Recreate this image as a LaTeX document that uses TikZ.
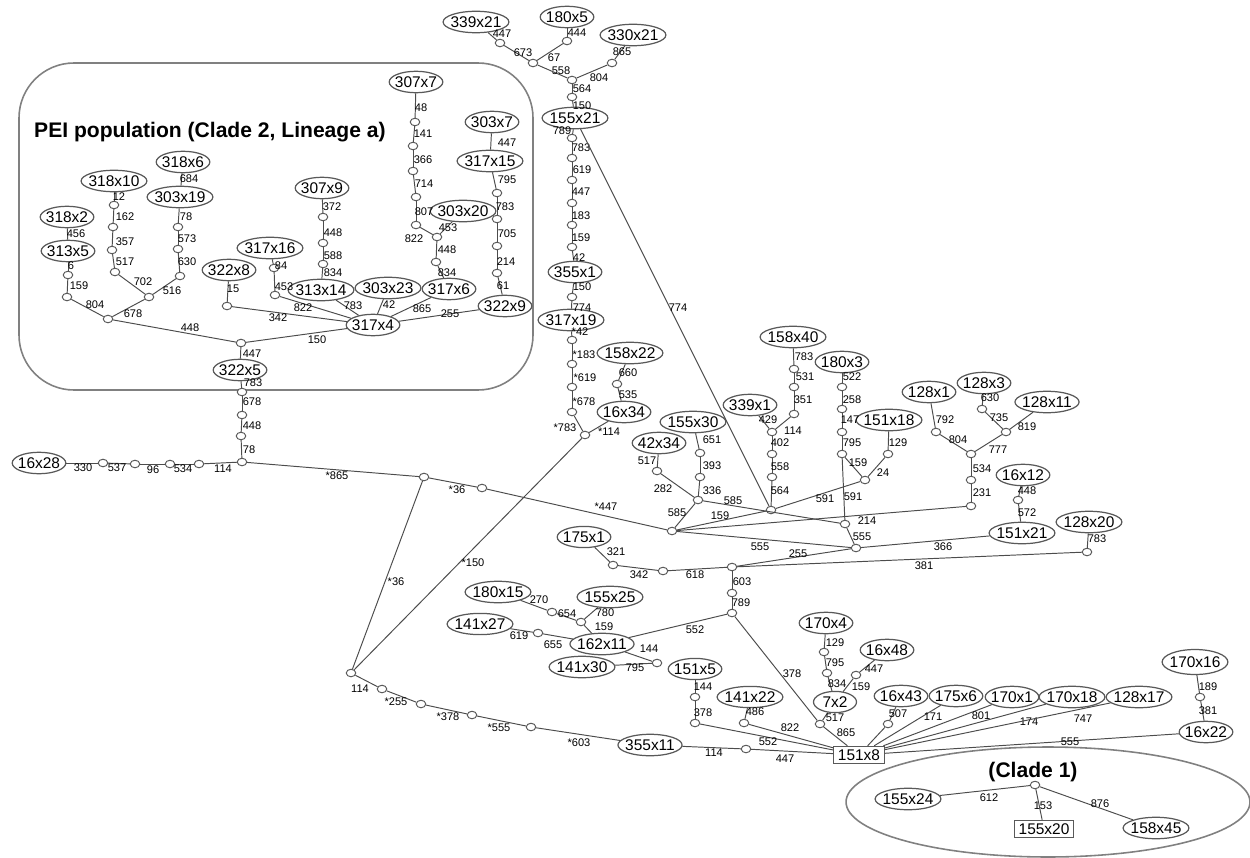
\documentclass[tikz,border=0pt]{standalone}
\usepackage{fontspec}
\setmainfont{Liberation Sans}
\usetikzlibrary{positioning, shapes.geometric}

\begin{document}
\begin{tikzpicture}[x=0.02cm, y=-0.02cm,
    hap/.style={ellipse, draw=black!65, line width=0.7pt, inner xsep=-1.2pt, inner ysep=1.2pt, minimum width=0.86cm, font=\fontsize{8.8}{9}\selectfont},
    hapbox/.style={rectangle, draw=black!65, line width=0.7pt, inner xsep=2.4pt, inner ysep=1.8pt, font=\fontsize{8.8}{9}\selectfont},
    mv/.style={ellipse, draw=black!65, line width=0.55pt, fill=white, minimum width=0.19cm, minimum height=0.15cm, inner sep=0pt},
    lnk/.style={draw=black!70, line width=0.55pt},
    lbl/.style={inner sep=0pt, font=\fontsize{6.3}{7}\selectfont}]

      \useasboundingbox (0,0) rectangle (1250,858);

      \draw[black!50, line width=0.9pt, rounded corners=1.1cm] (19,63) rectangle (533,390);
      \draw[black!50, line width=0.9pt] (1048,802) ellipse [x radius=4.04cm, y radius=1.1cm];

      \node[anchor=west, font=\fontsize{12}{14}\selectfont\bfseries] (pei) at (28,132) {PEI population (Clade 2, Lineage a)};
      \node[font=\fontsize{12}{14}\selectfont\bfseries] (clade1) at (1033,772) {(Clade 1)};

      \node[hap] (h339x21) at (476,22) {339x21};
      \node[hap] (h180x5) at (567,17) {180x5};
      \node[hap] (h330x21) at (633,35) {330x21};
      \node[hap] (h155x21) at (575,118) {155x21};
      \node[hap] (h355x1) at (575,272) {355x1};
      \node[hap] (h317x19) at (571,320) {317x19};
      \node[hap] (h158x22) at (630,353) {158x22};
      \node[hap] (h16x34) at (624,412) {16x34};

      \node[hap] (h307x7) at (416,82) {307x7};
      \node[hap] (h303x7) at (492,122) {303x7};
      \node[hap] (h317x15) at (490,161) {317x15};
      \node[hap] (h303x20) at (463,211) {303x20};
      \node[hap] (h307x9) at (322,188) {307x9};
      \node[hap] (h318x6) at (183,162) {318x6};
      \node[hap] (h303x19) at (180,197) {303x19};
      \node[hap] (h318x10) at (114,181) {318x10};
      \node[hap] (h318x2) at (67,217) {318x2};
      \node[hap] (h313x5) at (68,251) {313x5};
      \node[hap] (h317x16) at (270,248) {317x16};
      \node[hap] (h322x8) at (229,270) {322x8};
      \node[hap] (h313x14) at (321,290) {313x14};
      \node[hap] (h303x23) at (388,288) {303x23};
      \node[hap] (h317x6) at (449,289) {317x6};
      \node[hap] (h322x9) at (505,306) {322x9};
      \node[hap] (h317x4) at (373,325) {317x4};
      \node[hap] (h322x5) at (240,370) {322x5};

      \node[hap] (h16x28) at (39,463) {16x28};
      \node[hap] (h158x40) at (793,337) {158x40};
      \node[hap] (h339x1) at (750,405) {339x1};
      \node[hap] (h180x3) at (842,362) {180x3};
      \node[hap] (h151x18) at (889,420) {151x18};
      \node[hap] (h155x30) at (693,422) {155x30};
      \node[hap] (h42x34) at (659,443) {42x34};
      \node[hap] (h128x1) at (929,392) {128x1};
      \node[hap] (h128x3) at (984,383) {128x3};
      \node[hap] (h128x11) at (1047,402) {128x11};
      \node[hap] (h16x12) at (1023,475) {16x12};
      \node[hap] (h151x21) at (1022,533) {151x21};
      \node[hap] (h128x20) at (1089,522) {128x20};
      \node[hap] (h175x1) at (584,537) {175x1};

      \node[hap] (h180x15) at (498,592) {180x15};
      \node[hap] (h155x25) at (610,597) {155x25};
      \node[hap] (h141x27) at (480,624) {141x27};
      \node[hap] (h162x11) at (602,644) {162x11};
      \node[hap] (h141x30) at (582,667) {141x30};
      \node[hap] (h151x5) at (695,669) {151x5};
      \node[hap] (h141x22) at (750,697) {141x22};
      \node[hap] (h170x4) at (826,623) {170x4};
      \node[hap] (h16x48) at (887,650) {16x48};
      \node[hap] (h7x2) at (835,702) {7x2};
      \node[hap] (h355x11) at (650,745) {355x11};
      \node[hapbox] (h151x8) at (859,755) {151x8};
      \node[hap] (h16x43) at (901,696) {16x43};
      \node[hap] (h175x6) at (956,696) {175x6};
      \node[hap] (h170x1) at (1012,697) {170x1};
      \node[hap] (h170x18) at (1072,697) {170x18};
      \node[hap] (h128x17) at (1139,697) {128x17};
      \node[hap, minimum height=0.5cm] (h170x16) at (1195,662) {170x16};
      \node[hap] (h16x22) at (1206,732) {16x22};
      \node[hap] (h155x24) at (908,799) {155x24};
      \node[hapbox] (h155x20) at (1044,829) {155x20};
      \node[hap] (h158x45) at (1156,828) {158x45};

      \node[mv] (t1) at (500,43) {};
      \node[mv] (t2) at (533,63) {};
      \node[mv] (t3) at (567,41) {};
      \node[mv] (t4) at (612,63) {};
      \node[mv] (t5) at (572,80) {};
      \node[mv] (t6) at (572,97) {};
      \node[mv] (s1) at (572,138) {};
      \node[mv] (s2) at (572,158) {};
      \node[mv] (s3) at (572,180) {};
      \node[mv] (s4) at (572,203) {};
      \node[mv] (s5) at (572,225) {};
      \node[mv] (s6) at (572,247) {};
      \node[mv] (s7) at (572,297) {};
      \node[mv] (s8) at (572,340) {};
      \node[mv] (s9) at (572,364) {};
      \node[mv] (s10) at (572,387) {};
      \node[mv] (s11) at (572,412) {};
      \node[mv] (jA) at (585,435) {};
      \node[mv] (c158) at (617,384) {};

      \node[mv] (p1) at (415,122) {};
      \node[mv] (p2) at (413,146) {};
      \node[mv] (p3) at (413,171) {};
      \node[mv] (p4) at (416,197) {};
      \node[mv] (p5) at (416,225) {};
      \node[mv] (p6) at (437,237) {};
      \node[mv] (p7) at (436,262) {};
      \node[mv] (q1) at (497,193) {};
      \node[mv] (q2) at (497,219) {};
      \node[mv] (q3) at (497,246) {};
      \node[mv] (q4) at (497,273) {};
      \node[mv] (r1) at (323,217) {};
      \node[mv] (r2) at (323,243) {};
      \node[mv] (r3) at (323,264) {};
      \node[mv] (u1) at (274,268) {};
      \node[mv] (u2) at (275,295) {};
      \node[mv] (v1) at (227,306) {};
      \node[mv] (w1) at (178,227) {};
      \node[mv] (w2) at (178,249) {};
      \node[mv] (w3) at (180,276) {};
      \node[mv] (w4) at (149,297) {};
      \node[mv] (x1) at (114,205) {};
      \node[mv] (x2) at (113,227) {};
      \node[mv] (x3) at (112,250) {};
      \node[mv] (x4) at (115,272) {};
      \node[mv] (y1) at (68,275) {};
      \node[mv] (y2) at (67,297) {};
      \node[mv] (y3) at (108,319) {};
      \node[mv] (z1) at (241,343) {};

      \node[mv] (k1) at (242,392) {};
      \node[mv] (k2) at (242,415) {};
      \node[mv] (k3) at (241,436) {};
      \node[mv] (J0) at (242,462) {};
      \node[mv] (m1) at (199,464) {};
      \node[mv] (m2) at (170,464) {};
      \node[mv] (m3) at (135,464) {};
      \node[mv] (m4) at (103,463) {};
      \node[mv] (e1) at (424,477) {};
      \node[mv] (e2) at (482,488) {};
      \node[mv] (hub) at (351,673) {};
      \node[mv] (b1) at (382,689) {};
      \node[mv] (b2) at (421,704) {};
      \node[mv] (b3) at (472,715) {};
      \node[mv] (b4) at (531,727) {};
      \node[mv] (J1) at (672,531) {};

      \node[mv] (g1) at (794,369) {};
      \node[mv] (g2) at (794,387) {};
      \node[mv] (g3) at (794,414) {};
      \node[mv] (g4) at (772,432) {};
      \node[mv] (g5) at (772,454) {};
      \node[mv] (g6) at (772,477) {};
      \node[mv] (J5) at (771,510) {};
      \node[mv] (f1) at (842,387) {};
      \node[mv] (f2) at (842,409) {};
      \node[mv] (f3) at (842,432) {};
      \node[mv] (f4) at (842,454) {};
      \node[mv] (f5) at (865,480) {};
      \node[mv] (f6) at (888,454) {};
      \node[mv] (f7) at (845,524) {};
      \node[mv] (J2) at (856,548) {};
      \node[mv] (d1) at (700,453) {};
      \node[mv] (d2) at (700,477) {};
      \node[mv] (d3) at (698,500) {};
      \node[mv] (d4) at (657,471) {};
      \node[mv] (n1) at (936,432) {};
      \node[mv] (n2) at (971,454) {};
      \node[mv] (n3) at (982,409) {};
      \node[mv] (n4) at (1006,432) {};
      \node[mv] (n5) at (971,480) {};
      \node[mv] (n6) at (971,506) {};
      \node[mv] (o1) at (1018,500) {};
      \node[mv] (o2) at (1087,552) {};

      \node[mv] (J3) at (732,567) {};
      \node[mv] (a1) at (663,571) {};
      \node[mv] (a2) at (613,565) {};
      \node[mv] (a3) at (732,593) {};
      \node[mv] (J4) at (732,613) {};
      \node[mv] (l1) at (552,612) {};
      \node[mv] (l2) at (581,622) {};
      \node[mv] (l3) at (538,633) {};
      \node[mv] (l4) at (657,663) {};
      \node[mv] (i1) at (695,697) {};
      \node[mv] (i2) at (695,723) {};
      \node[mv] (i3) at (744,723) {};
      \node[mv] (i4) at (746,749) {};
      \node[mv] (c4a) at (824,652) {};
      \node[mv] (c4b) at (827,673) {};
      \node[mv] (c48) at (856,675) {};
      \node[mv] (c72) at (820,724) {};
      \node[mv] (c43) at (888,724) {};
      \node[mv] (c16) at (1200,697) {};
      \node[mv] (cl) at (1035,785) {};

      \draw[lnk] (h339x21)--(t1) node[lbl] at (502,34) {447};
      \draw[lnk] (t1)--(t2) node[lbl] at (523,53) {673};
      \draw[lnk] (h180x5)--(t3) node[lbl] at (577,33) {444};
      \draw[lnk] (t3)--(t2) node[lbl] at (554,58) {67};
      \draw[lnk] (t2)--(t5) node[lbl] at (561,71) {558};
      \draw[lnk] (h330x21)--(t4) node[lbl] at (622,52) {865};
      \draw[lnk] (t4)--(t5) node[lbl] at (599,78) {804};
      \draw[lnk] (t5)--(t6) node[lbl] at (582,89) {564};
      \draw[lnk] (t6)--(h155x21) node[lbl] at (582,106) {150};

      \draw[lnk] (h155x21)--(s1) node[lbl] at (562,131) {789};
      \draw[lnk] (s1)--(s2) node[lbl] at (581,148) {783};
      \draw[lnk] (s2)--(s3) node[lbl] at (582,170) {619};
      \draw[lnk] (s3)--(s4) node[lbl] at (581,192) {447};
      \draw[lnk] (s4)--(s5) node[lbl] at (581,216) {183};
      \draw[lnk] (s5)--(s6) node[lbl] at (581,238) {159};
      \draw[lnk] (s6)--(h355x1) node[lbl] at (579,258) {42};
      \draw[lnk] (h355x1)--(s7) node[lbl] at (582,287) {150};
      \draw[lnk] (s7)--(h317x19) node[lbl] at (582,308) {774};
      \draw[lnk] (h317x19)--(s8) node[lbl] at (580,332) {*42};
      \draw[lnk] (s8)--(s9) node[lbl] at (584,355) {*183};
      \draw[lnk] (s9)--(s10) node[lbl] at (585,378) {*619};
      \draw[lnk] (s10)--(s11) node[lbl] at (584,402) {*678};
      \draw[lnk] (s11)--(jA) node[lbl] at (565,428) {*783};
      \draw[lnk] (h158x22)--(c158) node[lbl] at (628,373) {660};
      \draw[lnk] (c158)--(h16x34) node[lbl] at (628,395) {535};
      \draw[lnk] (h16x34)--(jA) node[lbl] at (609,432) {*114};
      \draw[lnk] (h155x21)--(J5) node[lbl] at (678,308) {774};

      \draw[lnk] (h307x7)--(p1) node[lbl] at (421,108) {48};
      \draw[lnk] (p1)--(p2) node[lbl] at (423,134) {141};
      \draw[lnk] (p2)--(p3) node[lbl] at (423,160) {366};
      \draw[lnk] (p3)--(p4) node[lbl] at (424,184) {714};
      \draw[lnk] (p4)--(p5) node[lbl] at (424,212) {807};
      \draw[lnk] (p5)--(p6) node[lbl] at (414,239) {822};
      \draw[lnk] (h303x20)--(p6) node[lbl] at (448,228) {453};
      \draw[lnk] (p6)--(p7) node[lbl] at (447,250) {448};
      \draw[lnk] (p7)--(h317x6) node[lbl] at (447,273) {834};
      \draw[lnk] (h317x6)--(h317x4) node[lbl] at (422,309) {865};
      \draw[lnk] (h303x7)--(h317x15) node[lbl] at (507,143) {447};
      \draw[lnk] (h317x15)--(q1) node[lbl] at (507,180) {795};
      \draw[lnk] (q1)--(q2) node[lbl] at (505,207) {783};
      \draw[lnk] (q2)--(q3) node[lbl] at (507,234) {705};
      \draw[lnk] (q3)--(q4) node[lbl] at (506,262) {214};
      \draw[lnk] (q4)--(h322x9) node[lbl] at (503,286) {61};
      \draw[lnk] (h322x9)--(h317x4) node[lbl] at (450,314) {255};
      \draw[lnk] (h303x23)--(h317x4) node[lbl] at (389,305) {42};
      \draw[lnk] (h307x9)--(r1) node[lbl] at (332,207) {372};
      \draw[lnk] (r1)--(r2) node[lbl] at (333,233) {448};
      \draw[lnk] (r2)--(r3) node[lbl] at (333,256) {588};
      \draw[lnk] (r3)--(h313x14) node[lbl] at (333,273) {834};
      \draw[lnk] (h313x14)--(h317x4) node[lbl] at (353,306) {783};
      \draw[lnk] (h317x16)--(u1) node[lbl] at (281,266) {84};
      \draw[lnk] (u1)--(u2) node[lbl] at (284,287) {453};
      \draw[lnk] (u2)--(h317x4) node[lbl] at (303,308) {822};
      \draw[lnk] (h322x8)--(v1) node[lbl] at (233,289) {15};
      \draw[lnk] (v1)--(h317x4) node[lbl] at (278,318) {342};
      \draw[lnk] (h317x4)--(z1) node[lbl] at (317,340) {150};
      \draw[lnk] (h318x6)--(h303x19) node[lbl] at (189,179) {684};
      \draw[lnk] (h303x19)--(w1) node[lbl] at (186,217) {78};
      \draw[lnk] (w1)--(w2) node[lbl] at (187,239) {573};
      \draw[lnk] (w2)--(w3) node[lbl] at (187,262) {630};
      \draw[lnk] (w3)--(w4) node[lbl] at (172,291) {516};
      \draw[lnk] (h318x10)--(x1) node[lbl] at (119,197) {12};
      \draw[lnk] (x1)--(x2) node[lbl] at (125,217) {162};
      \draw[lnk] (x2)--(x3) node[lbl] at (125,242) {357};
      \draw[lnk] (x3)--(x4) node[lbl] at (125,262) {517};
      \draw[lnk] (x4)--(w4) node[lbl] at (143,282) {702};
      \draw[lnk] (w4)--(y3) node[lbl] at (133,314) {678};
      \draw[lnk] (h318x2)--(h313x5) node[lbl] at (76,234) {456};
      \draw[lnk] (h313x5)--(y1) node[lbl] at (71,266) {6};
      \draw[lnk] (y1)--(y2) node[lbl] at (79,286) {159};
      \draw[lnk] (y2)--(y3) node[lbl] at (95,305) {804};
      \draw[lnk] (y3)--(z1) node[lbl] at (190,328) {448};
      \draw[lnk] (z1)--(h322x5) node[lbl] at (252,354) {447};

      \draw[lnk] (h322x5)--(k1) node[lbl] at (253,383) {783};
      \draw[lnk] (k1)--(k2) node[lbl] at (252,402) {678};
      \draw[lnk] (k2)--(k3) node[lbl] at (252,426) {448};
      \draw[lnk] (k3)--(J0) node[lbl] at (249,450) {78};
      \draw[lnk] (J0)--(m1) node[lbl] at (223,469) {114};
      \draw[lnk] (m1)--(m2) node[lbl] at (183,469) {534};
      \draw[lnk] (m2)--(m3) node[lbl] at (153,470) {96};
      \draw[lnk] (m3)--(m4) node[lbl] at (117,468) {537};
      \draw[lnk] (m4)--(h16x28) node[lbl] at (83,468) {330};
      \draw[lnk] (J0)--(e1) node[lbl] at (337,476) {*865};
      \draw[lnk] (e1)--(e2) node[lbl] at (457,490) {*36};
      \draw[lnk] (e2)--(J1) node[lbl] at (606,507) {*447};
      \draw[lnk] (e1)--(hub) node[lbl] at (396,582) {*36};
      \draw[lnk] (hub)--(jA) node[lbl] at (473,563) {*150};
      \draw[lnk] (hub)--(b1) node[lbl] at (360,689) {114};
      \draw[lnk] (b1)--(b2) node[lbl] at (396,702) {*255};
      \draw[lnk] (b2)--(b3) node[lbl] at (448,717) {*378};
      \draw[lnk] (b3)--(b4) node[lbl] at (499,728) {*555};
      \draw[lnk] (b4)--(h355x11) node[lbl] at (579,743) {*603};
      \draw[lnk] (h355x11)--(i4) node[lbl] at (714,753) {114};
      \draw[lnk] (i4)--(h151x8) node[lbl] at (785,759) {447};

      \draw[lnk] (h158x40)--(g1) node[lbl] at (804,357) {783};
      \draw[lnk] (g1)--(g2) node[lbl] at (805,377) {531};
      \draw[lnk] (g2)--(g3) node[lbl] at (803,400) {351};
      \draw[lnk] (g3)--(g4) node[lbl] at (793,431) {114};
      \draw[lnk] (h339x1)--(g4) node[lbl] at (768,420) {429};
      \draw[lnk] (g4)--(g5) node[lbl] at (780,443) {402};
      \draw[lnk] (g5)--(g6) node[lbl] at (780,467) {558};
      \draw[lnk] (g6)--(J5) node[lbl] at (780,491) {564};
      \draw[lnk] (J5)--(f5) node[lbl] at (825,499) {591};
      \draw[lnk] (h180x3)--(f1) node[lbl] at (852,377) {522};
      \draw[lnk] (f1)--(f2) node[lbl] at (852,400) {258};
      \draw[lnk] (f2)--(f3) node[lbl] at (850,420) {147};
      \draw[lnk] (f3)--(f4) node[lbl] at (852,443) {795};
      \draw[lnk] (f4)--(f5) node[lbl] at (858,463) {159};
      \draw[lnk] (f5)--(f6) node[lbl] at (883,473) {24};
      \draw[lnk] (f6)--(h151x18) node[lbl] at (898,443) {129};
      \draw[lnk] (f4)--(f7) node[lbl] at (853,497) {591};
      \draw[lnk] (f7)--(J2) node[lbl] at (862,537) {555};
      \draw[lnk] (h155x30)--(d1) node[lbl] at (712,440) {651};
      \draw[lnk] (d1)--(d2) node[lbl] at (712,466) {393};
      \draw[lnk] (d2)--(d3) node[lbl] at (712,491) {336};
      \draw[lnk] (h42x34)--(d4) node[lbl] at (647,461) {517};
      \draw[lnk] (d4)--(d3) node[lbl] at (663,489) {282};
      \draw[lnk] (d3)--(J1) node[lbl] at (677,513) {585};
      \draw[lnk] (d3)--(f7) node[lbl] at (733,501) {585};
      \draw[lnk] (J1)--(J5) node[lbl] at (720,516) {159};
      \draw[lnk] (J1)--(n6) node[lbl] at (867,521) {214};
      \draw[lnk] (J1)--(J2) node[lbl] at (760,547) {555};
      \draw[lnk] (h128x1)--(n1) node[lbl] at (945,420) {792};
      \draw[lnk] (n1)--(n2) node[lbl] at (958,440) {804};
      \draw[lnk] (h128x3)--(n3) node[lbl] at (990,398) {630};
      \draw[lnk] (n3)--(n4) node[lbl] at (999,418) {735};
      \draw[lnk] (h128x11)--(n4) node[lbl] at (1027,427) {819};
      \draw[lnk] (n4)--(n2) node[lbl] at (998,450) {777};
      \draw[lnk] (n2)--(n5) node[lbl] at (982,469) {534};
      \draw[lnk] (n5)--(n6) node[lbl] at (982,493) {231};
      \draw[lnk] (h16x12)--(o1) node[lbl] at (1027,491) {448};
      \draw[lnk] (o1)--(h151x21) node[lbl] at (1027,513) {572};
      \draw[lnk] (J2)--(h151x21) node[lbl] at (943,547) {366};
      \draw[lnk] (J2)--(J3) node[lbl] at (798,554) {255};
      \draw[lnk] (J3)--(o2) node[lbl] at (924,566) {381};
      \draw[lnk] (h128x20)--(o2) node[lbl] at (1097,539) {783};

      \draw[lnk] (J3)--(a1) node[lbl] at (695,575) {618};
      \draw[lnk] (a1)--(a2) node[lbl] at (639,575) {342};
      \draw[lnk] (a2)--(h175x1) node[lbl] at (616,552) {321};
      \draw[lnk] (J3)--(a3) node[lbl] at (742,582) {603};
      \draw[lnk] (a3)--(J4) node[lbl] at (741,603) {789};
      \draw[lnk] (J4)--(h162x11) node[lbl] at (695,630) {552};
      \draw[lnk] (J4)--(c72) node[lbl] at (792,674) {378};
      \draw[lnk] (h180x15)--(l1) node[lbl] at (539,600) {270};
      \draw[lnk] (l1)--(l2) node[lbl] at (567,614) {654};
      \draw[lnk] (h155x25)--(l2) node[lbl] at (605,613) {780};
      \draw[lnk] (l2)--(h162x11) node[lbl] at (604,627) {159};
      \draw[lnk] (h141x27)--(l3) node[lbl] at (519,636) {619};
      \draw[lnk] (l3)--(h162x11) node[lbl] at (553,645) {655};
      \draw[lnk] (h162x11)--(l4) node[lbl] at (649,649) {144};
      \draw[lnk] (l4)--(h141x30) node[lbl] at (635,668) {795};
      \draw[lnk] (h151x5)--(i1) node[lbl] at (703,687) {144};
      \draw[lnk] (i1)--(i2) node[lbl] at (703,713) {378};
      \draw[lnk] (i2)--(h151x8) node[lbl] at (768,742) {552};
      \draw[lnk] (h141x22)--(i3) node[lbl] at (755,712) {486};
      \draw[lnk] (i3)--(h151x8) node[lbl] at (790,728) {822};
      \draw[lnk] (h170x4)--(c4a) node[lbl] at (835,643) {129};
      \draw[lnk] (c4a)--(c4b) node[lbl] at (835,663) {795};
      \draw[lnk] (c4b)--(h7x2) node[lbl] at (837,684) {834};
      \draw[lnk] (h16x48)--(c48) node[lbl] at (874,669) {447};
      \draw[lnk] (c48)--(h7x2) node[lbl] at (861,687) {159};
      \draw[lnk] (h7x2)--(c72) node[lbl] at (835,718) {517};
      \draw[lnk] (c72)--(h151x8) node[lbl] at (846,733) {865};
      \draw[lnk] (h16x43)--(c43) node[lbl] at (898,714) {507};
      \draw[lnk] (c43)--(h151x8);
      \draw[lnk] (h175x6)--(h151x8) node[lbl] at (933,717) {171};
      \draw[lnk] (h170x1)--(h151x8) node[lbl] at (981,716) {801};
      \draw[lnk] (h170x18)--(h151x8) node[lbl] at (1029,722) {174};
      \draw[lnk] (h128x17)--(h151x8) node[lbl] at (1083,719) {747};
      \draw[lnk] (h170x16)--(c16) node[lbl] at (1208,687) {189};
      \draw[lnk] (c16)--(h16x22) node[lbl] at (1208,711) {381};
      \draw[lnk] (h151x8)--(h16x22) node[lbl] at (1070,742) {555};

      \draw[lnk] (cl)--(h155x24) node[lbl] at (989,798) {612};
      \draw[lnk] (cl)--(h155x20) node[lbl] at (1043,806) {153};
      \draw[lnk] (cl)--(h158x45) node[lbl] at (1100,804) {876};
    \end{tikzpicture}
\end{document}
